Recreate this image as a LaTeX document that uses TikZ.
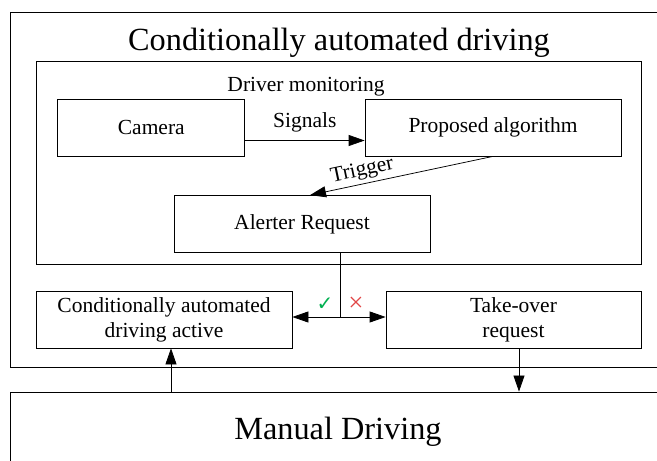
\documentclass[tikz,border=0pt]{standalone}
\usepackage{fontspec}
\setmainfont{Liberation Serif}
\newfontfamily\symfont{DejaVu Sans}
\usetikzlibrary{arrows.meta}
\definecolor{okgreen}{RGB}{0,176,80}
\definecolor{nored}{RGB}{225,70,70}
\tikzset{
  frame/.style={draw, line width=0.9pt, inner sep=0pt},
  stepbox/.style={draw, line width=0.75pt, minimum height=57pt, inner sep=0pt,
    align=center, font=\fontsize{21.5}{25}\selectfont},
  big/.style={font=\fontsize{32.3}{38}\selectfont, inner sep=0pt},
  mid/.style={font=\fontsize{21.5}{25}\selectfont, inner sep=0pt},
  arr/.style={line width=0.75pt, -{Triangle[length=16pt,width=11pt]}},
  conn/.style={line width=0.75pt}
}
\begin{document}
\begin{tikzpicture}[x=1pt,y=-1pt]
\useasboundingbox (0,0) rectangle (657,461);
\clip (0,0) rectangle (657,461);

% outer frames
\node[frame, minimum width=690pt, minimum height=355pt] (auto) at (355,189.5) {};
\node[frame, minimum width=690pt, minimum height=110pt] (manual) at (355,447) {};
\node[big, anchor=base] (ttl) at (339,50) {Conditionally automated driving};
\node[big, anchor=base] (mtxt) at (338,439) {Manual Driving};

% driver monitoring block
\node[frame, line width=0.75pt, minimum width=605pt, minimum height=203pt] (dm) at (338.5,162.5) {};
\node[mid, anchor=base] (dmt) at (306,91) {Driver monitoring};

\node[stepbox, minimum width=187pt] (cam) at (151.3,127.5) {Camera};
\node[stepbox, minimum width=256pt] (prop) at (493,127.5) {Proposed algorithm};
\node[stepbox, minimum width=256pt] (al) at (302,224) {Alerter Request};

\node[stepbox, minimum width=256pt] (cad) at (164,319.5) {Conditionally automated\\driving active};
\node[stepbox, minimum width=255pt] (tor) at (513.5,319.5) {Take-over\\request};

% helper coordinates
\coordinate (sig) at (0,140.5);
\coordinate (trg) at (310,0);
\coordinate (split) at (340,317);
\coordinate (up) at (171,0);
\coordinate (dn) at (519,0);

% connectors
\draw[arr] (cam.east |- sig) -- node[mid, above=8pt] (sigl) {Signals} (prop.west |- sig);
\draw[arr] (prop.south) -- node[mid, pos=0.7, sloped, above=3pt] (trgl) {Trigger} (al.north -| trg);
\draw[conn] (al.south -| split) -- (split);
\draw[arr] (split) -- (cad.east |- split);
\draw[arr] (split) -- (tor.west |- split);
\node[text=okgreen, font=\symfont\fontsize{20}{20}\selectfont, inner sep=0pt] (ok) at (325,304) {✓};
\node[text=nored, font=\fontsize{27}{27}\selectfont, inner sep=0pt] (no) at (356,304) {×};
\draw[arr] (manual.north -| up) -- (cad.south -| up);
\draw[arr] (tor.south -| dn) -- (manual.north -| dn);
\end{tikzpicture}
\end{document}
